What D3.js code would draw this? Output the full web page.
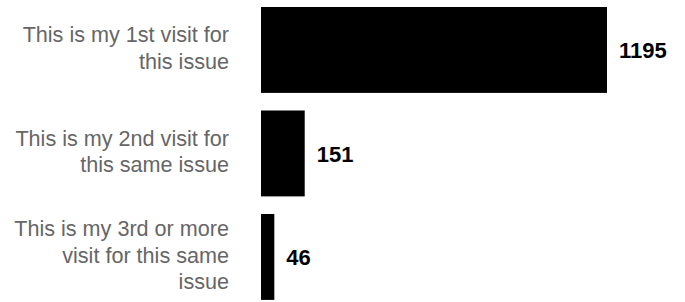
<!DOCTYPE html>
<html>
<head>
<meta charset="utf-8">
<script src="https://cdn.jsdelivr.net/npm/d3@7"></script>
<style>
  body { margin: 0; background: #fff; }
  svg { display: block; font-family: "Liberation Sans", Arial, Helvetica, sans-serif; }
</style>
</head>
<body>
<svg width="685" height="302"></svg>
<script>
// chart data
var categories = [
  ["This is my 1st visit for", "this issue"],
  ["This is my 2nd visit for", "this same issue"],
  ["This is my 3rd or more", "visit for this same", "issue"]
];
var values = [1195, 151, 46];

var svg = d3.select("svg"),
    left = 261,
    lineHeight = 26.5;

var x = d3.scaleLinear().domain([0, 1195]).range([left, 607]);

var y = d3.scaleBand()
    .domain(d3.range(values.length))
    .range([-1.8, 308.7])
    .paddingInner(0.17)
    .paddingOuter(0.085);

var row = svg.selectAll(".row")
  .data(values)
  .enter().append("g")
    .attr("class", "row");

row.append("rect")
    .attr("x", x(0))
    .attr("y", function(d, i) { return y(i); })
    .attr("width", function(d) { return x(d) - x(0); })
    .attr("height", y.bandwidth())
    .attr("fill", "#000");

row.append("text")
    .attr("x", function(d) { return x(d) + 12; })
    .attr("y", function(d, i) { return y(i) + y.bandwidth() / 2; })
    .attr("dy", "0.38em")
    .style("font-size", "22px")
    .style("font-weight", "bold")
    .attr("fill", "#000")
    .text(function(d) { return d; });

// category labels, multi-line, right aligned
row.append("text")
    .attr("text-anchor", "end")
    .style("font-size", "21.6px")
    .attr("fill", "#666")
    .each(function(d, i) {
      var lines = categories[i],
          cy = y(i) + y.bandwidth() / 2,
          top = cy - (lines.length - 1) * lineHeight / 2;
      d3.select(this).selectAll("tspan")
        .data(lines)
        .enter().append("tspan")
          .attr("x", 229)
          .attr("y", function(l, j) { return top + j * lineHeight; })
          .attr("dy", "0.26em")
          .text(function(l) { return l; });
    });
</script>
</body>
</html>
